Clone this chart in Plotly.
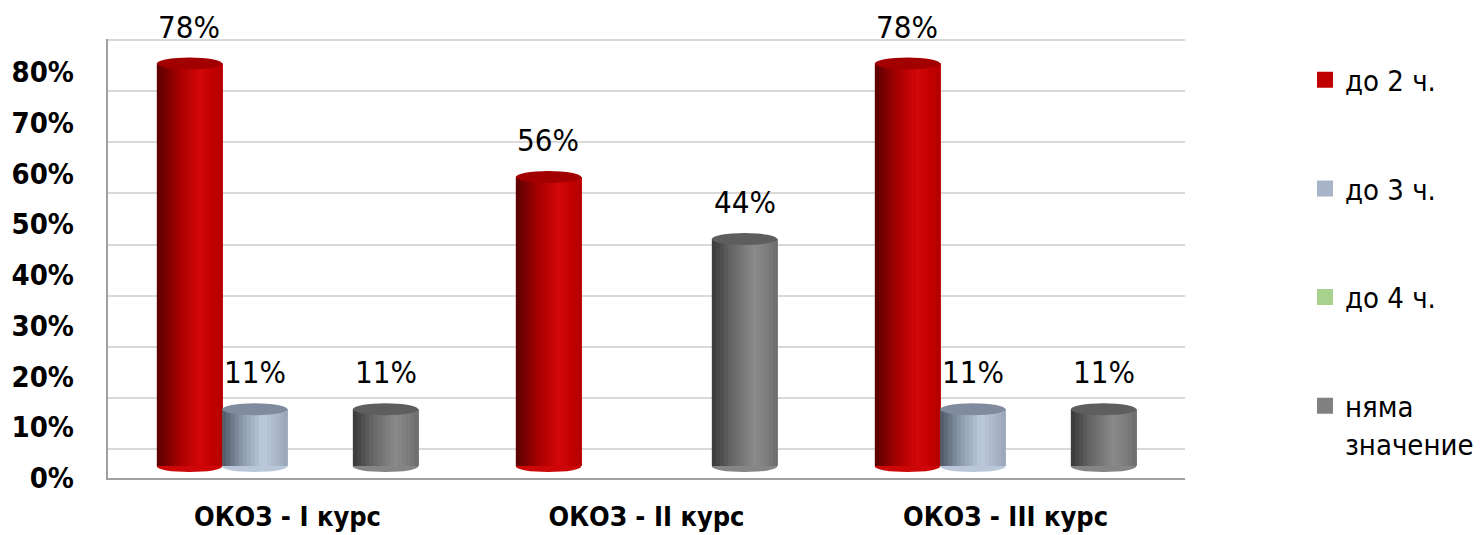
import plotly.graph_objects as go

# data
categories = ["ОКОЗ - I курс", "ОКОЗ - II курс", "ОКОЗ - III курс"]
series_names = ["до 2 ч.", "до 3 ч.", "до 4 ч.", "няма<br>значение"]
do_2 = [0.78, 0.56, 0.78]
do_3 = [0.11, 0.0, 0.11]
do_4 = [0.0, 0.0, 0.0]
nyama = [0.11, 0.44, 0.11]
y_ticks = [0, 0.1, 0.2, 0.3, 0.4, 0.5, 0.6, 0.7, 0.8]

NARROW = "Liberation Sans Narrow, Arial Narrow, DejaVu Sans Condensed, Liberation Sans, sans-serif"

legend_colors = ["#c00000", "#a9b4c8", "#a9d18e", "#808080"]
top_colors = ["#a20000", "#808c9d", "#8fb873", "#5e5e5e"]
gradients = [
    [(0, "#5a0000"), (0.35, "#a80000"), (0.65, "#d40808"), (0.85, "#c20000"), (1, "#b40000")],
    [(0, "#4e5866"), (0.3, "#8a98aa"), (0.62, "#bccadc"), (0.85, "#a9b5c7"), (1, "#9aa5b6")],
    [(0, "#6f9a52"), (0.3, "#95c27a"), (0.62, "#b5dc9c"), (0.85, "#a9d18e"), (1, "#9cc482")],
    [(0, "#383838"), (0.3, "#666666"), (0.65, "#8a8a8a"), (0.85, "#7c7c7c"), (1, "#6c6c6c")],
]

SLOT = 0.182   # width of one cylinder in category units
STRIPS = 16


def hex_rgb(h):
    return tuple(int(h[i:i + 2], 16) for i in (1, 3, 5))


def grad_color(stops, t):
    for (t0, c0), (t1, c1) in zip(stops, stops[1:]):
        if t <= t1:
            f = (t - t0) / (t1 - t0)
            a, b = hex_rgb(c0), hex_rgb(c1)
            return "rgb(%d,%d,%d)" % tuple(round(a[i] + (b[i] - a[i]) * f) for i in range(3))
    return stops[-1][1]


fig = go.Figure()
xs = list(range(len(categories)))
all_series = [do_2, do_3, do_4, nyama]

for si, values in enumerate(all_series):
    centre = (si - 1.5) * SLOT
    left = centre - SLOT / 2
    sw = SLOT / STRIPS
    # cylinder body: each strip runs to the right edge, later strips cover earlier ones
    for k in range(STRIPS):
        fig.add_trace(go.Bar(
            x=xs, y=values, offset=left + k * sw, width=SLOT - k * sw,
            marker=dict(color=grad_color(gradients[si], (k + 0.5) / STRIPS), line=dict(width=0)),
            showlegend=False, hoverinfo="skip", yaxis="y"
        ))
    for xi, v in zip(xs, values):
        if v <= 0:
            continue
        # rounded base and top cap
        fig.add_shape(type="circle", xref="x", yref="y", x0=xi + left, x1=xi + left + SLOT,
                      ysizemode="pixel", yanchor=0, y0=-6, y1=5, layer="between",
                      fillcolor=grad_color(gradients[si], 0.6), line=dict(width=0))
        fig.add_shape(type="circle", xref="x", yref="y", x0=xi + left, x1=xi + left + SLOT,
                      ysizemode="pixel", yanchor=v, y0=-6, y1=6, layer="above",
                      fillcolor=top_colors[si], line=dict(width=0))
        fig.add_annotation(x=xi + centre, y=v, yref="y", text=f"{v:.0%}", showarrow=False,
                           yshift=37, font=dict(family=NARROW, size=31, color="black"))

# legend entries
for si, name in enumerate(series_names):
    fig.add_trace(go.Scatter(
        x=[None], y=[None], mode="markers", name=name, legendgroup=str(si),
        marker=dict(symbol="square", size=16, color=legend_colors[si])
    ))

# helper traces so the grid and label axes are drawn
fig.add_trace(go.Scatter(x=[None], y=[None], yaxis="y2", showlegend=False, hoverinfo="skip"))
fig.add_trace(go.Scatter(x=[None], y=[None], yaxis="y3", showlegend=False, hoverinfo="skip"))

# the page body adds 8px around the figure, so the figure is 8px smaller
fig.update_layout(
    width=1473, height=527,
    margin=dict(l=100, r=296, t=31, b=57, autoexpand=False),
    plot_bgcolor="white", paper_bgcolor="white",
    barmode="overlay",
    showlegend=True,
    legend=dict(x=1.1114, y=0.965, xanchor="left", yanchor="top", valign="top",
                tracegroupgap=68, maxheight=520,
                font=dict(family=NARROW, size=29, color="black"),
                bgcolor="rgba(0,0,0,0)"),
    xaxis=dict(range=[-0.5, 2.5], tickvals=xs, ticktext=categories, showgrid=False,
               zeroline=False, showline=True, linecolor="#a0a0a0", linewidth=2,
               ticks="", ticklabelstandoff=14, automargin=False,
               tickfont=dict(family=NARROW, size=27, color="black", weight="bold")),
    yaxis=dict(range=[-0.02326, 0.8275], showgrid=False, zeroline=False, showticklabels=False,
               showline=True, linecolor="#a0a0a0", linewidth=2, automargin=False),
    yaxis2=dict(range=[-0.0568, 0.8023], overlaying="y", side="right", tickvals=y_ticks,
                showgrid=True, gridcolor="#d9d9d9", gridwidth=2, zeroline=False,
                showticklabels=False, showline=False, automargin=False),
    yaxis3=dict(range=[0, 0.865], overlaying="y", side="left", tickvals=y_ticks,
                tickformat=".0%", showgrid=False, zeroline=False, showline=False,
                ticks="", ticklabelstandoff=33, automargin=False,
                tickfont=dict(family=NARROW, size=29, color="black", weight="bold")),
)

fig.write_html("out.html")
